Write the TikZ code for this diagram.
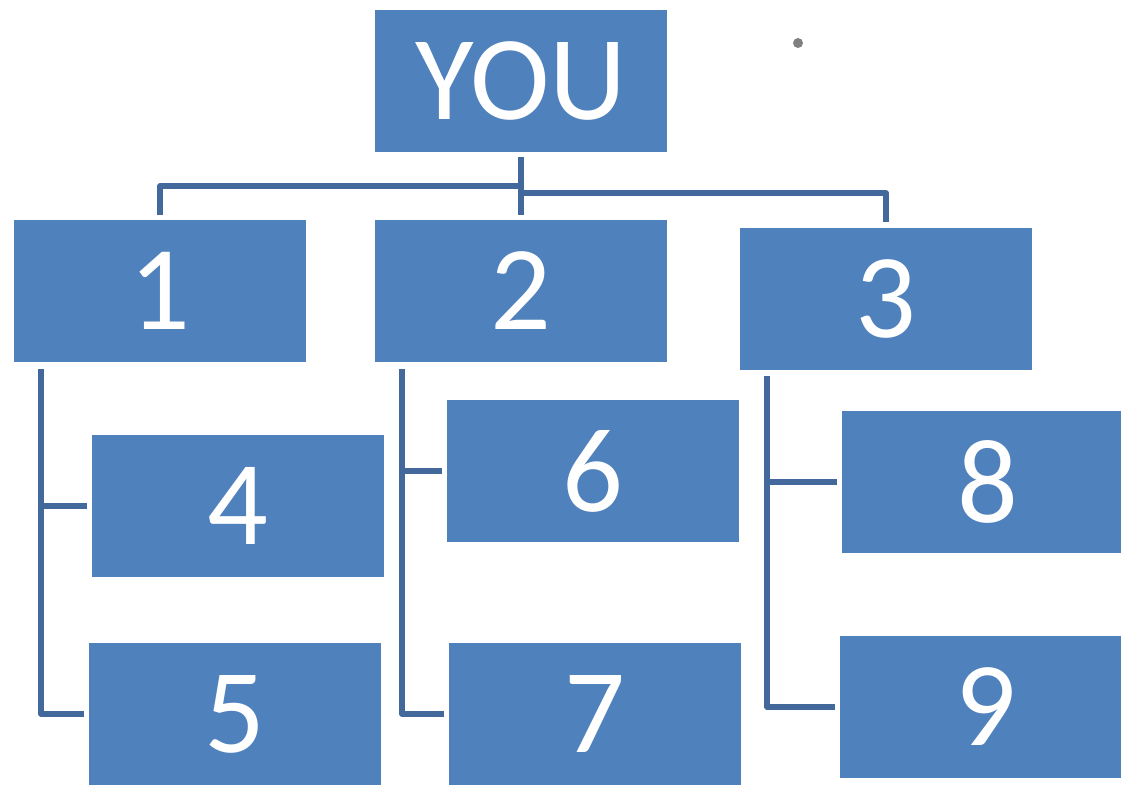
\documentclass[tikz,border=0pt]{standalone}
\usepackage{fontspec}
\setmainfont{Carlito}
\definecolor{boxblue}{HTML}{4F81BD}
\definecolor{linkblue}{HTML}{43699C}
\begin{document}
\begin{tikzpicture}[x=1pt,y=-1pt,
  orgbox/.style={fill=boxblue, draw=none, inner sep=0pt, outer sep=0pt,
    minimum width=292pt, minimum height=142pt, anchor=north west,
    text=white, font=\fontsize{120}{120}\selectfont},
  conn/.style={draw=linkblue, line width=5.5pt, line join=round}]
\useasboundingbox (0,0) rectangle (1121,785);
\clip (0,0) rectangle (1121,785);
\node[orgbox] (you) at (375,10) {YOU};
\node[orgbox] (n1) at (14,220) {1};
\node[orgbox] (n2) at (375,220) {2};
\node[orgbox] (n3) at (740,228) {3};
\node[orgbox] (n4) at (92,435) {4};
\node[orgbox] (n5) at (89,643) {5};
\node[orgbox] (n6) at (447,400) {6};
\node[orgbox] (n7) at (449,643) {7};
\node[orgbox] (n8) at (842,411) {8};
\node[orgbox] (n9) at (840,636) {9};
\fill[gray] (798,43) circle (5pt);
% top connectors
\coordinate (hL) at (521,186);
\coordinate (hR) at (521,193);
\draw[conn] ([yshift=-5pt]you.south) -- ([yshift=5pt]n2.north);
\draw[conn] ([yshift=5pt]n1.north) |- (hL);
\draw[conn] ([yshift=6pt]n3.north) |- (hR);
% child connectors
\coordinate (v1) at (41,369);
\coordinate (v2) at (402,369);
\coordinate (v3) at (767,376);
\draw[conn] (v1) |- ([xshift=-5pt]n4.west);
\draw[conn] (v1) |- ([xshift=-5pt]n5.west);
\draw[conn] (v2) |- ([xshift=-5pt]n6.west);
\draw[conn] (v2) |- ([xshift=-5pt]n7.west);
\draw[conn] (v3) |- ([xshift=-5pt]n8.west);
\draw[conn] (v3) |- ([xshift=-5pt]n9.west);
\end{tikzpicture}
\end{document}
